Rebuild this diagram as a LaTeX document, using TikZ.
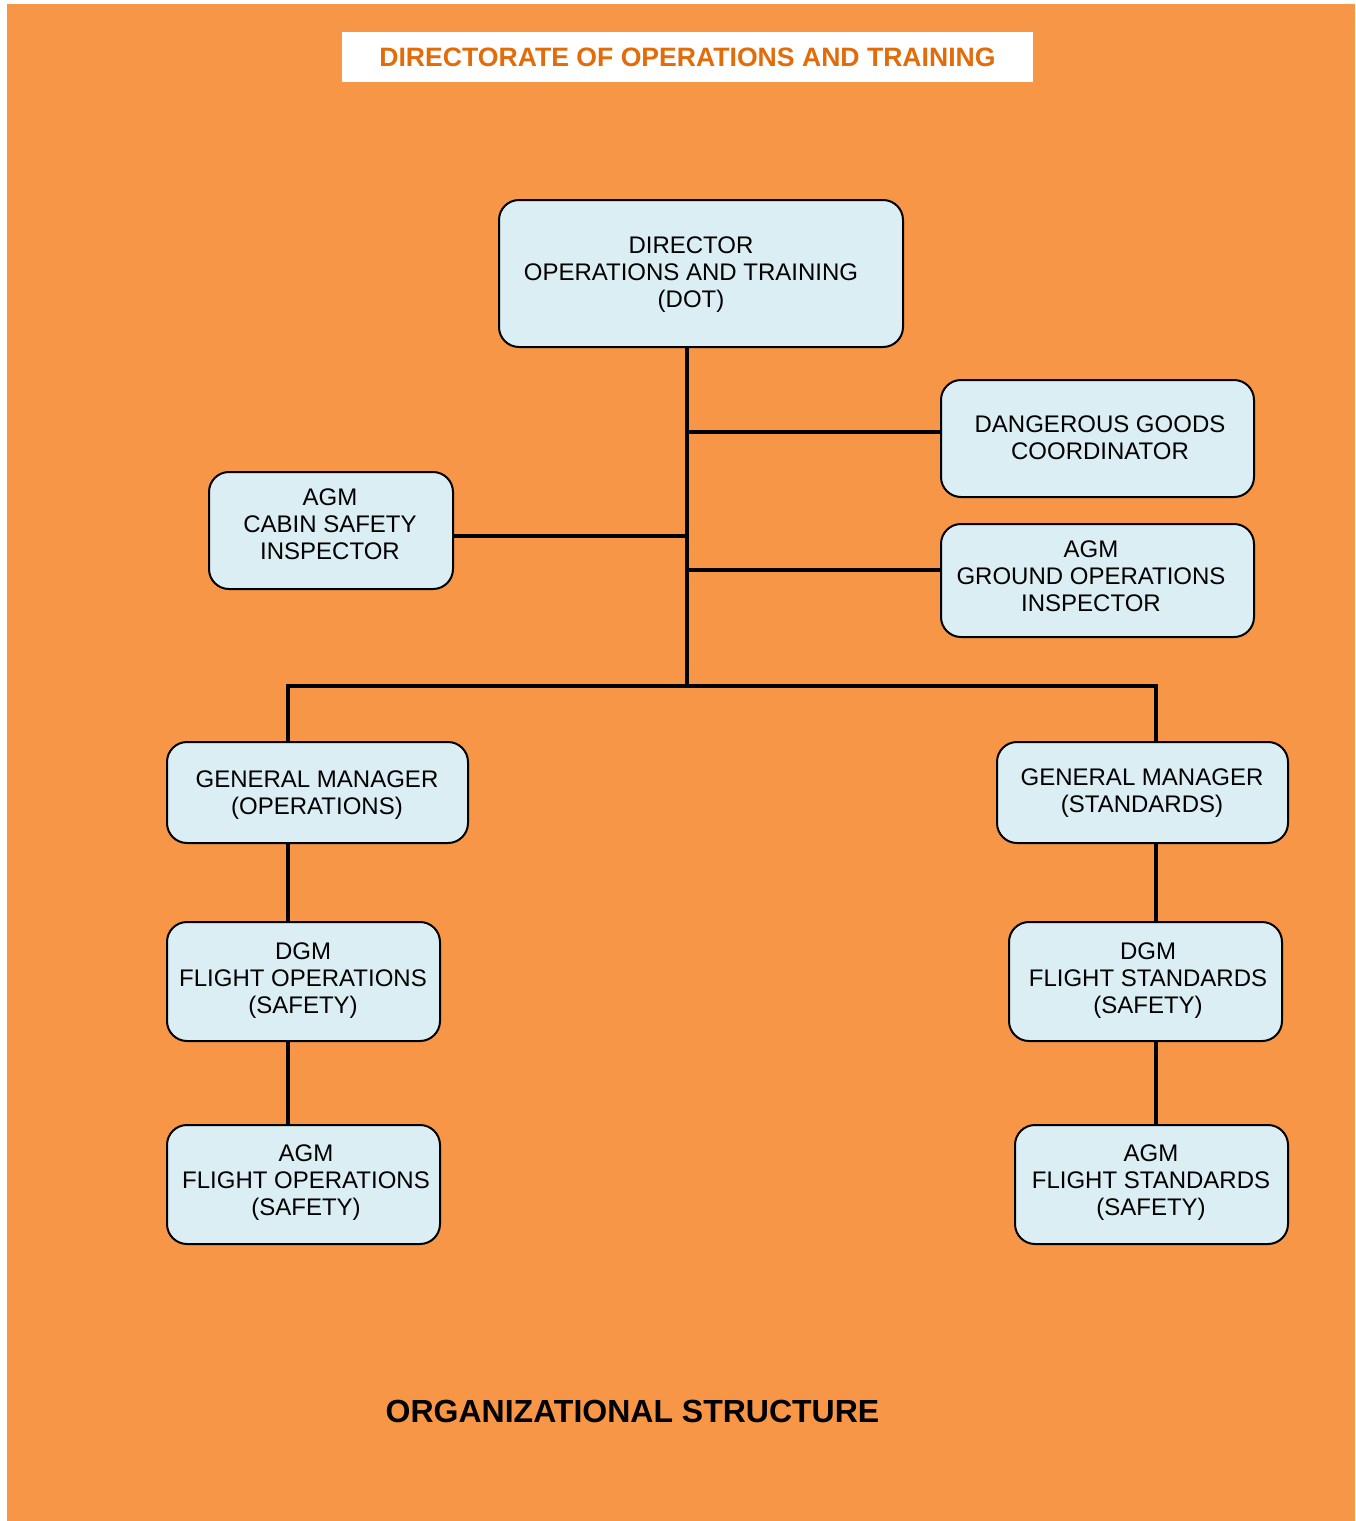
\documentclass[tikz,border=0pt]{standalone}
\usepackage{fontspec}
\setmainfont{Liberation Sans}
\usepackage{tikz}
\usetikzlibrary{positioning, calc}

\definecolor{fondorange}{HTML}{F79646}
\definecolor{boiteclaire}{HTML}{DBEEF4}
\definecolor{titreorange}{HTML}{E36C0A}

\tikzset{
  orgbox/.style 2 args={draw=black, line width=1pt, fill=boiteclaire, rounded corners=10pt,
    minimum width=#1*0.5pt, minimum height=#2*0.5pt, inner sep=0pt},
  orgtext/.style={align=center, inner sep=0pt, font=\fontsize{12}{13.5}\selectfont},
  link/.style={draw=black, line width=2.2pt},
}

\begin{document}
\begin{tikzpicture}[x=0.5pt, y=-0.5pt]
            % Fond orange et cadre de la page
            \useasboundingbox (0,0) rectangle (1355,1521);
            \fill[fondorange] (7,4) rectangle (1355,1521);
            % Bandeau blanc du titre
            \node[fill=white, minimum width=345.5pt, minimum height=25pt, inner sep=0pt,
              font=\fontsize{13.3}{16}\bfseries\selectfont, text=titreorange] (title) at (687.5,57)
              {DIRECTORATE OF OPERATIONS AND TRAINING};
            % Boîtes du haut
            \node[orgbox={404}{147}] (dot) at (701,273.5) {};
            \node[orgtext] (dot-txt) at (691,274.5) {DIRECTOR\\OPERATIONS AND TRAINING\\(DOT)};
            \node[orgbox={313}{117}] (dg) at (1097.5,438.5) {};
            \node[orgtext] (dg-txt) at (1100,437.5) {DANGEROUS GOODS\\COORDINATOR};
            \node[orgbox={244}{117}] (cabin) at (331,530.5) {};
            \node[orgtext] (cabin-txt) at (330,524) {AGM\\CABIN SAFETY\\INSPECTOR};
            \node[orgbox={313}{113}] (ground) at (1097.5,580.5) {};
            \node[orgtext] (ground-txt) at (1091,576) {AGM\\GROUND OPERATIONS\\INSPECTOR};
            % Branche gauche : opérations
            \node[orgbox={301}{101}] (gmops) at (317.5,792.5) {};
            \node[orgtext] (gmops-txt) at (317,795) {GENERAL MANAGER\\(OPERATIONS)};
            \node[orgbox={273}{119}] (dgmfo) at (303.5,981.5) {};
            \node[orgtext] (dgmfo-txt) at (303,981) {DGM\\FLIGHT OPERATIONS\\(SAFETY)};
            \node[orgbox={273}{119}] (agmfo) at (303.5,1184.5) {};
            \node[orgtext] (agmfo-txt) at (306,1183) {AGM\\FLIGHT OPERATIONS\\(SAFETY)};
            % Branche droite : standards
            \node[orgbox={291}{101}] (gmstd) at (1142.5,792.5) {};
            \node[orgtext] (gmstd-txt) at (1142,793) {GENERAL MANAGER\\(STANDARDS)};
            \node[orgbox={273}{119}] (dgmfs) at (1145.5,981.5) {};
            \node[orgtext] (dgmfs-txt) at (1148,981) {DGM\\FLIGHT STANDARDS\\(SAFETY)};
            \node[orgbox={273}{119}] (agmfs) at (1151.5,1184.5) {};
            \node[orgtext] (agmfs-txt) at (1151,1183) {AGM\\FLIGHT STANDARDS\\(SAFETY)};
            % Points de jonction sur les traits
            \coordinate (spine) at (687,686);
            \coordinate (lbus) at (288,686);
            \coordinate (rbus) at (1156,686);
            \coordinate (dgjoin) at (687,432);
            \coordinate (cabjoin) at (687,536);
            \coordinate (gndjoin) at (687,570);
            % Liaisons
            \draw[link] (dot.south -| spine) -- (spine);
            \draw[link] (dgjoin) -- (dgjoin -| dg.west);
            \draw[link] (cabjoin) -- (cabjoin -| cabin.east);
            \draw[link] (gndjoin) -- (gndjoin -| ground.west);
            \draw[link] (lbus |- gmops.north) -- (lbus) -- (rbus) -- (rbus |- gmstd.north);
            \draw[link] (gmops.south -| lbus) -- (dgmfo.north -| lbus);
            \draw[link] (dgmfo.south -| lbus) -- (agmfo.north -| lbus);
            \draw[link] (gmstd.south -| rbus) -- (dgmfs.north -| rbus);
            \draw[link] (dgmfs.south -| rbus) -- (agmfs.north -| rbus);
            % Légende en bas
            \node[font=\fontsize{16}{19}\bfseries\selectfont] (caption) at (632.5,1411) {ORGANIZATIONAL STRUCTURE};
        \end{tikzpicture}
\end{document}
